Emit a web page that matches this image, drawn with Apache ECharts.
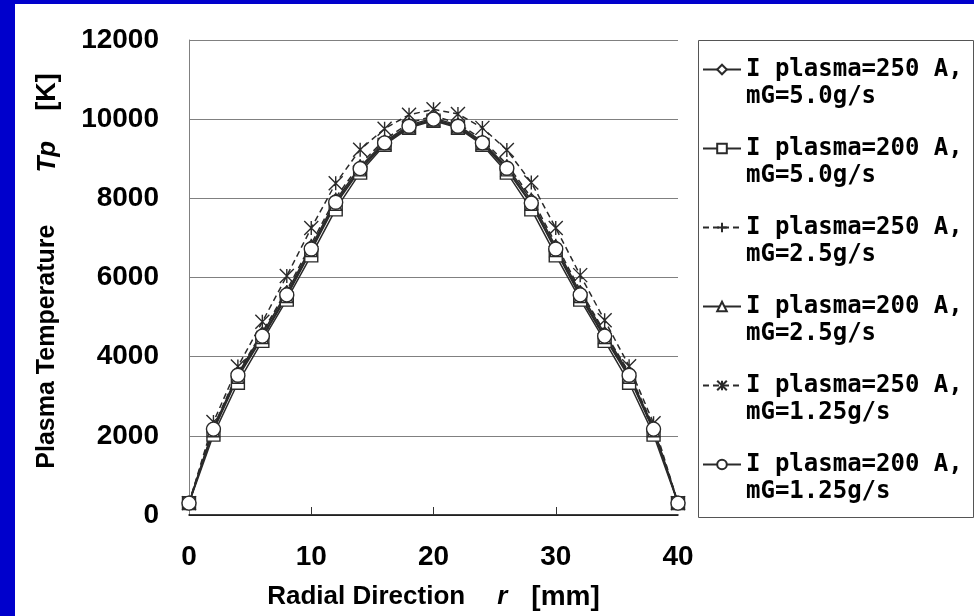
<!DOCTYPE html>
<html>
<head>
<meta charset="utf-8">
<script src="https://cdn.jsdelivr.net/npm/echarts@6/dist/echarts.min.js"></script>
<style>
  html, body { margin: 0; padding: 0; background: #fff; }
  #chart { width: 974px; height: 616px; }
</style>
</head>
<body>
<div id="chart"></div>
<script>
// radial positions (mm)
const radialPos = [0, 2, 4, 6, 8, 10, 12, 14, 16, 18, 20, 22, 24, 26, 28, 30, 32, 34, 36, 38, 40]

// plasma temperature Tp [K]
const tp250_50 = [310, 2200, 3570, 4580, 5620, 6780, 7950, 8800, 9430, 9850, 10030, 9850, 9430, 8800, 7950, 6780, 5620, 4580, 3570, 2200, 310]
const tp200_50 = [300, 2030, 3340, 4400, 5440, 6560, 7720, 8650, 9350, 9780, 9960, 9780, 9350, 8650, 7720, 6560, 5440, 4400, 3340, 2030, 300]
const tp250_25 = [310, 2230, 3600, 4620, 5680, 6850, 8020, 8860, 9480, 9900, 10080, 9900, 9480, 8860, 8020, 6850, 5680, 4620, 3600, 2230, 310]
const tp200_25 = [300, 2130, 3480, 4480, 5520, 6680, 7850, 8720, 9380, 9800, 9980, 9800, 9380, 8720, 7850, 6680, 5520, 4480, 3480, 2130, 300]
const tp250_125 = [300, 2350, 3750, 4880, 6040, 7250, 8380, 9230, 9760, 10110, 10250, 10130, 9780, 9220, 8400, 7250, 6060, 4920, 3760, 2320, 300]
const tp200_125 = [300, 2170, 3530, 4520, 5560, 6720, 7900, 8750, 9400, 9820, 10000, 9820, 9400, 8760, 7880, 6720, 5560, 4520, 3530, 2170, 300]

const seriesNames = [
  'I plasma=250 A,\nmG=5.0g/s',
  'I plasma=200 A,\nmG=5.0g/s',
  'I plasma=250 A,\nmG=2.5g/s',
  'I plasma=200 A,\nmG=2.5g/s',
  'I plasma=250 A,\nmG=1.25g/s',
  'I plasma=200 A,\nmG=1.25g/s'
]

const yTicks = [0, 2000, 4000, 6000, 8000, 10000, 12000]
const xTicks = [0, 10, 20, 30, 40]

const ASTERISK = 'path://M0,0L10,10M10,0L0,10M5,0L5,10'
const PLUS = 'path://M0,5L10,5M5,0L5,10'

function toPairs(values) {
  return radialPos.map((r, i) => [r, values[i]])
}

function makeSeries(name, values, symbol, size, dashed) {
  return {
    name: name,
    type: 'line',
    data: toPairs(values),
    symbol: symbol,
    symbolSize: size,
    showSymbol: true,
    animation: false,
    lineStyle: { color: '#2a2a2a', width: 1.5, type: dashed ? [6, 4] : 'solid' },
    itemStyle: { color: '#ffffff', borderColor: '#2a2a2a', borderWidth: 1.4 }
  }
}

const chart = echarts.init(document.getElementById('chart'), null, { renderer: 'canvas' })

const option = {
  backgroundColor: '#ffffff',
  animation: false,
  graphic: [
    { type: 'rect', left: 0, top: 0, shape: { width: 15, height: 616 }, style: { fill: '#0000cc' }, z: 100 },
    { type: 'rect', left: 0, top: 0, shape: { width: 974, height: 4 }, style: { fill: '#0000cc' }, z: 100 },
    { type: 'rect', left: 696, top: 38, shape: { width: 275, height: 477 }, style: { fill: 'none', stroke: '#555', lineWidth: 1 }, z: 0 }
  ],
  grid: { left: 189, right: 296, top: 40, bottom: 101, containLabel: false },
  legend: {
    orient: 'vertical',
    left: 702,
    top: 29,
    padding: 0,
    itemGap: -2,
    itemWidth: 38,
    itemHeight: 12,
    selectedMode: false,
    data: seriesNames,
    // blank first line so the icon sits beside the first text line
    formatter: (name) => ' \n' + name,
    textStyle: {
      fontFamily: 'DejaVu Sans Mono',
      fontWeight: 'bold',
      fontSize: 24,
      lineHeight: 27,
      color: '#000'
    }
  },
  xAxis: {
    type: 'value',
    min: xTicks[0],
    max: xTicks[xTicks.length - 1],
    interval: 10,
    name: '{a|Radial Direction}{g|}{i|r}{h|}{k|[mm]}',
    nameLocation: 'middle',
    nameGap: 68,
    nameTextStyle: {
      rich: {
        a: { fontFamily: 'Liberation Sans', fontWeight: 'bold', fontSize: 26, color: '#000' },
        i: { fontFamily: 'Liberation Sans', fontStyle: 'italic', fontWeight: 'bold', fontSize: 26, color: '#000' },
        k: { fontFamily: 'Liberation Sans', fontWeight: 'bold', fontSize: 28, color: '#000' },
        g: { width: 32 },
        h: { width: 24 }
      }
    },
    axisLine: { lineStyle: { color: '#000', width: 1.5 } },
    axisTick: { show: true, inside: true, length: 8, customValues: [10, 20, 30], lineStyle: { color: '#333' } },
    axisLabel: { fontFamily: 'Liberation Sans', fontWeight: 'bold', fontSize: 28, color: '#000', margin: 28 },
    splitLine: { show: false }
  },
  yAxis: {
    type: 'value',
    min: yTicks[0],
    max: yTicks[yTicks.length - 1],
    interval: 2000,
    name: '{z|}{a|Plasma Temperature}{g|}{i|Tp}{h|}{k|[K]}',
    nameLocation: 'middle',
    nameRotate: 90,
    nameGap: 128,
    nameTextStyle: {
      rich: {
        z: { width: 13 },
        a: { fontFamily: 'Liberation Sans', fontWeight: 'bold', fontSize: 25, color: '#000' },
        i: { fontFamily: 'Liberation Sans', fontStyle: 'italic', fontWeight: 'bold', fontSize: 26, color: '#000' },
        k: { fontFamily: 'Liberation Sans', fontWeight: 'bold', fontSize: 27, color: '#000' },
        g: { width: 52 },
        h: { width: 30 }
      }
    },
    axisLine: { show: true, lineStyle: { color: '#808080', width: 1 } },
    axisTick: { show: false },
    axisLabel: {
      fontFamily: 'Liberation Sans', fontWeight: 'bold', fontSize: 28, color: '#000', margin: 30,
      formatter: (v) => String(v)
    },
    splitLine: { show: true, lineStyle: { color: '#808080', width: 1 } }
  },
  series: [
    makeSeries(seriesNames[0], tp250_50, 'diamond', 13, false),
    makeSeries(seriesNames[1], tp200_50, 'rect', 13, false),
    makeSeries(seriesNames[2], tp250_25, PLUS, 10, true),
    makeSeries(seriesNames[3], tp200_25, 'triangle', 12, false),
    makeSeries(seriesNames[4], tp250_125, ASTERISK, 14, true),
    makeSeries(seriesNames[5], tp200_125, 'circle', 14, false)
  ]
}

chart.setOption(option)
</script>
</body>
</html>
